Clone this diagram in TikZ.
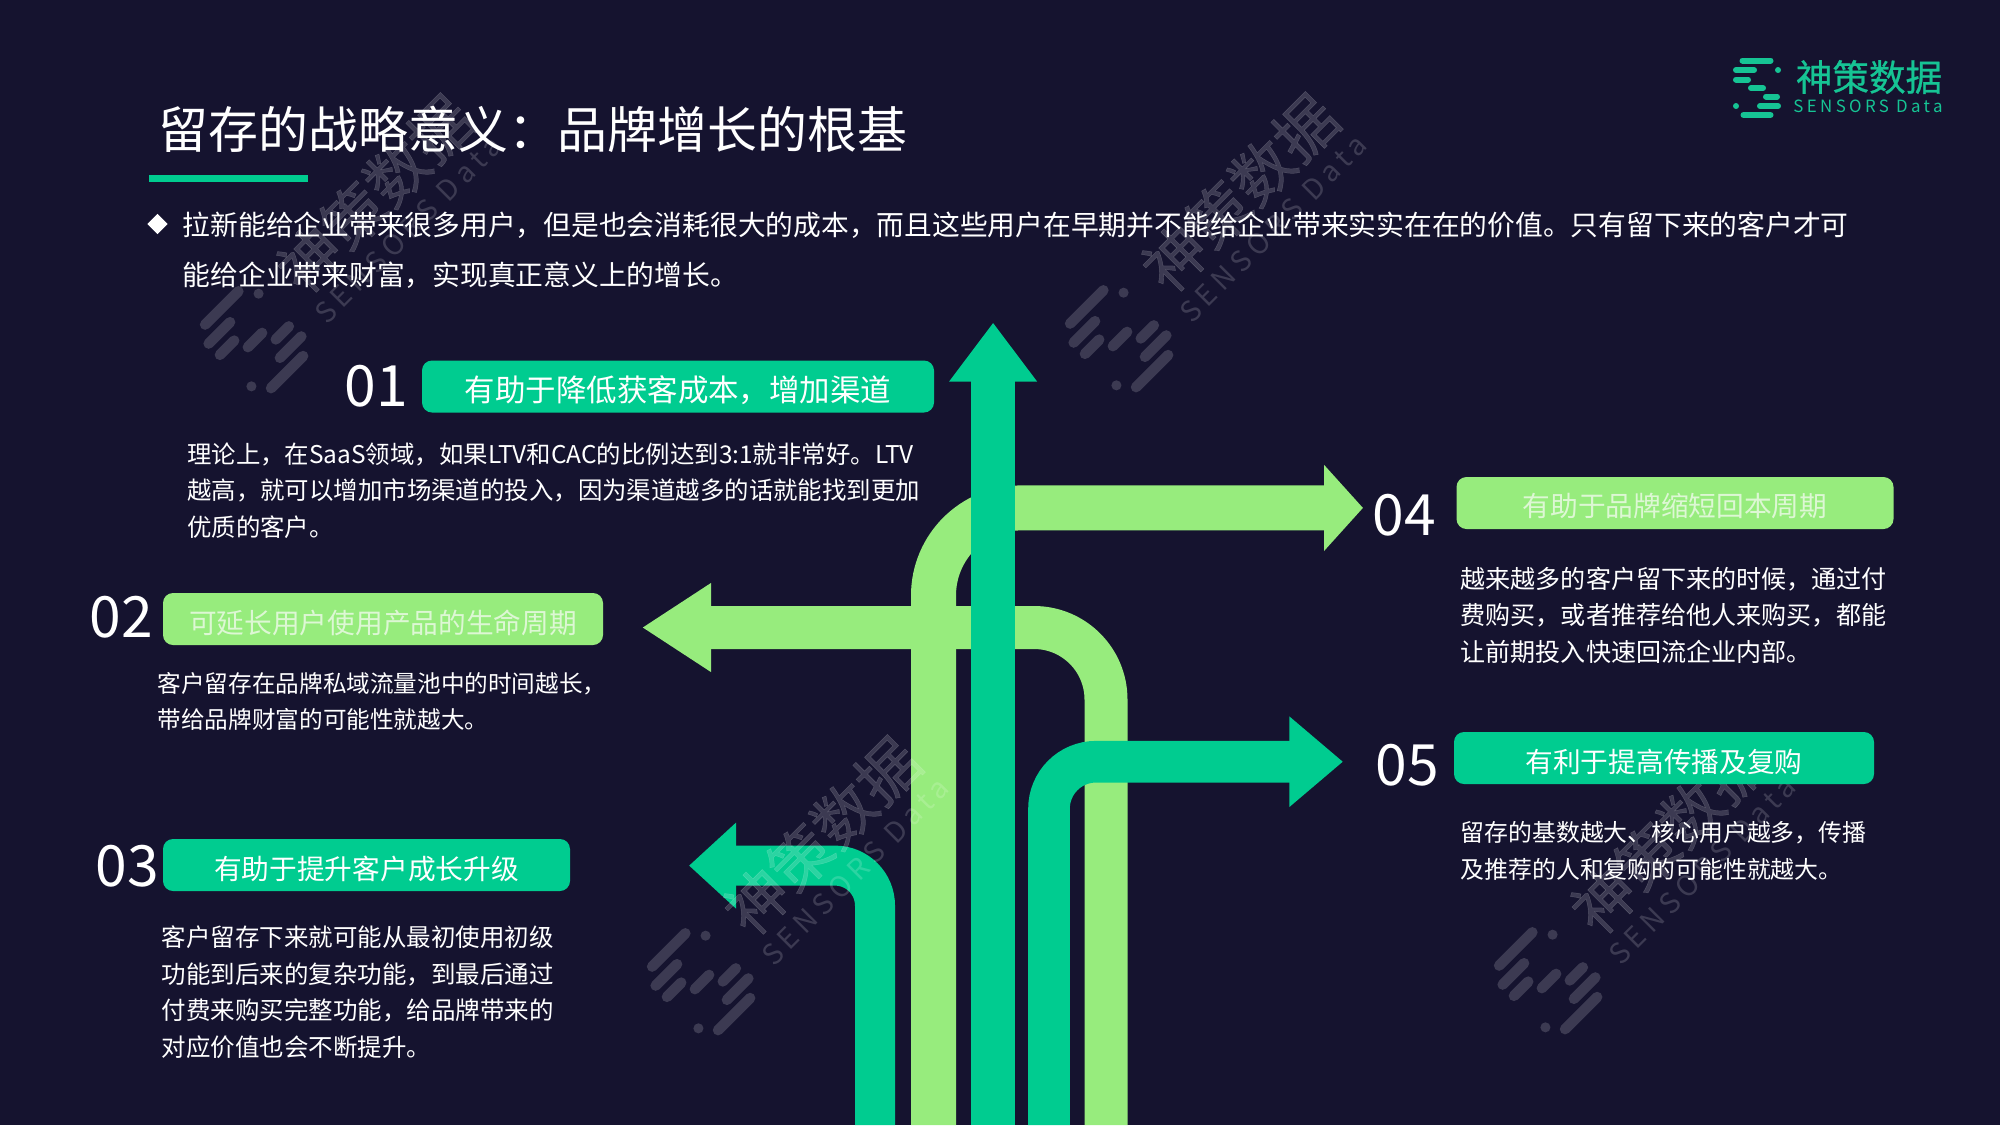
\documentclass[tikz,border=0pt]{standalone}
\usepackage{fontspec}
\usepackage{xcolor}
\setmainfont{Noto Sans CJK SC}
\newfontfamily\logofont[LetterSpace=20]{Noto Sans CJK SC}
\newfontfamily\logoname[FakeBold=.7]{Noto Sans CJK SC}
\usetikzlibrary{arrows.meta}
\usetikzlibrary{shapes.geometric}
\definecolor{bgnavy}{HTML}{15132F}
\definecolor{darkgreen}{HTML}{00CC90}
\definecolor{lightgreen}{HTML}{97EC7D}
\definecolor{logogreen}{HTML}{16C494}
\definecolor{palegreen}{HTML}{DDF7D4}
\newcommand{\bartext}[1]{\raisebox{-.035cm}[\height][\depth]{#1}}
\tikzset{
	titletext/.style={inner sep=0,anchor=west,text=white,font=\fontsize{14.2}{17}\selectfont},
	leadtext/.style={inner sep=0,anchor=west,align=left,text=white,font=\fontsize{7.9}{14.23}\selectfont},
	bodytext/.style={inner sep=0,anchor=west,align=left,text=white,font=\fontsize{#1}{10.4}\selectfont},
	numtext/.style={inner sep=0,text=white,font=\fontsize{16.2}{20}\selectfont},
	headbar/.style={inner sep=0,rounded corners=.1cm,minimum height=.52cm,font=\fontsize{7.88}{10}\selectfont},
	darkbar/.style={headbar,fill=darkgreen,text=white},
	lightbar/.style={headbar,fill=lightgreen,text=palegreen},
	pics/sdlogo/.style={code={
		\foreach \xa/\xb/\ya in {-.145/.135/-.275,-.21/-.03/-.18,-.21/-.09/-.085,-.06/.06/0,.09/.20/.085,.03/.21/.18,-.135/.135/.27}
			\draw[line width=#1,line cap=round] (\xa,\ya) -- (\xb,\ya);
		\fill (.21,-.18) circle (.03);
		\fill (-.21,.18) circle (.03);
		\node[inner sep=0,font=\logoname\fontsize{10.4}{12}\selectfont] (-name) at (1.12,-.11) {神策数据};
		\node[inner sep=0,font=\logofont\fontsize{4.8}{5}\selectfont] (-en) at (1.11,.18) {SENSORS Data};
	}},
	wmark/.style={color=white,text=white,opacity=.17,scale=1.68,rotate=45,transform shape},
}
\begin{document}
\begin{tikzpicture}[y=-1cm]
	\fill[bgnavy] (0,0) rectangle (20,11.25);
	\useasboundingbox (0,0) rectangle (20,11.25);
	% arrow ends
	\coordinate (s03) at (8.75,11.25);
	\coordinate (t03) at (6.89,8.656);
	\coordinate (s04) at (9.335,11.25);
	\coordinate (t04) at (13.63,5.079);
	\coordinate (s02) at (11.06,11.25);
	\coordinate (t02) at (6.42,6.275);
	\coordinate (s05) at (10.49,11.25);
	\coordinate (t05) at (13.43,7.617);
	\coordinate (s01) at (9.931,11.25);
	\coordinate (t01) at (9.931,3.226);
	% arrows
	\draw[darkgreen,line width=.40cm,rounded corners=.40cm,-{Triangle[length=.47cm,width=.83cm]}] (s03) |- (t03);
	\draw[lightgreen,line width=.45cm,rounded corners=.875cm,-{Triangle[length=.39cm,width=.84cm]}] (s04) |- (t04);
	\draw[lightgreen,line width=.43cm,rounded corners=.72cm,-{Triangle[length=.69cm,width=.84cm]}] (s02) |- (t02);
	\draw[darkgreen,line width=.416cm,rounded corners=.47cm,-{Triangle[length=.536cm,width=.87cm]}] (s05) |- (t05);
	\draw[darkgreen,line width=.434cm,-{Triangle[length=.59cm,width=.84cm]}] (s01) -- (t01);
	% watermarks
	\foreach \wx/\wy [count=\wn] in {2.55/3.40,11.20/3.39,7.02/9.82,15.49/9.81}
		\pic[wmark] (wm\wn) at (\wx,\wy) {sdlogo=.105cm};
	% logo
	\pic[color=logogreen,text=logogreen] (logo) at (17.57,.88) {sdlogo=.06cm};
	% title
	\node[titletext] (title) at (1.58,1.29) {留存的战略意义：品牌增长的根基};
	\fill[darkgreen] (1.49,1.75) rectangle (3.08,1.82);
	\node[diamond,fill=white,inner sep=0,minimum width=.21cm,minimum height=.21cm] (bullet) at (1.575,2.24) {};
	\node[leadtext] (lead) at (1.82,2.50) {拉新能给企业带来很多用户，但是也会消耗很大的成本，而且这些用户在早期并不能给企业带来实实在在的价值。只有留下来的客户才可\\能给企业带来财富，实现真正意义上的增长。};
	% head bars
	\node[darkbar,font=\fontsize{8.67}{10}\selectfont,minimum width=5.12cm] (bar01) at (6.78,3.865) {\bartext{有助于降低获客成本，增加渠道}};
	\node[lightbar,minimum width=4.40cm] (bar02) at (3.83,6.19) {\bartext{可延长用户使用产品的生命周期}};
	\node[darkbar,minimum width=4.07cm] (bar03) at (3.665,8.65) {\bartext{有助于提升客户成长升级}};
	\node[lightbar,minimum width=4.37cm] (bar04) at (16.75,5.03) {\bartext{有助于品牌缩短回本周期}};
	\node[darkbar,minimum width=4.20cm] (bar05) at (16.64,7.58) {\bartext{有利于提高传播及复购}};
	% numbers
	\node[numtext] (num01) at (3.76,3.86) {01};
	\node[numtext] (num02) at (1.215,6.17) {02};
	\node[numtext] (num03) at (1.275,8.66) {03};
	\node[numtext] (num04) at (14.04,5.15) {04};
	\node[numtext] (num05) at (14.07,7.65) {05};
	% body text
	\node[bodytext=6.95] (body01) at (1.865,4.905) {理论上，在SaaS领域，如果LTV和CAC的比例达到3:1就非常好。LTV\\越高，就可以增加市场渠道的投入，因为渠道越多的话就能找到更加\\优质的客户。};
	\node[bodytext=6.72] (body02) at (1.57,7.015) {客户留存在品牌私域流量池中的时间越长，\\带给品牌财富的可能性就越大。};
	\node[bodytext=6.97] (body03) at (1.61,9.92) {客户留存下来就可能从最初使用初级\\功能到后来的复杂功能，到最后通过\\付费来购买完整功能，给品牌带来的\\对应价值也会不断提升。};
	\node[bodytext=7.13] (body04) at (14.60,6.15) {越来越多的客户留下来的时候，通过付\\费购买，或者推荐给他人来购买，都能\\让前期投入快速回流企业内部。};
	\node[bodytext=6.79] (body05) at (14.60,8.51) {留存的基数越大、核心用户越多，传播\\及推荐的人和复购的可能性就越大。};
\end{tikzpicture}
\end{document}
